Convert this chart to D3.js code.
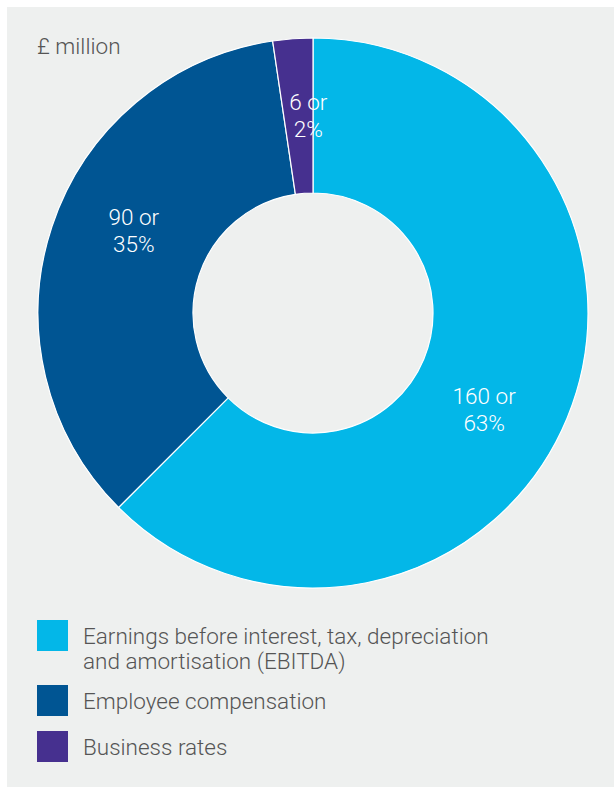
<!DOCTYPE html>
<html>
<head>
<meta charset="utf-8">
<script src="https://cdn.jsdelivr.net/npm/d3@7"></script>
<style>
  html, body { margin: 0; padding: 0; background: #ffffff; }
  svg { display: block; }
  text { font-family: Roboto, "Open Sans", sans-serif; }
</style>
</head>
<body>
<svg id="chart" width="614" height="787"></svg>
<script>
// ---- data ----
const categories = ["Earnings before interest, tax, depreciation and amortisation (EBITDA)", "Employee compensation", "Business rates"];
const legendLines = [["Earnings before interest, tax, depreciation", "and amortisation (EBITDA)"], ["Employee compensation"], ["Business rates"]];
const values = [160, 90, 6];
const percents = ["63%", "35%", "2%"];
const colors = ["#03b7e8", "#005593", "#46308f"];
const unitLabel = "£ million";

// ---- drawing ----
const svg = d3.select("#chart");
svg.append("rect").attr("x", 7).attr("y", 7).attr("width", 607).attr("height", 780).attr("fill", "#eef0ef");

const cx = 313, cy = 313, rOuter = 275, rInner = 120;
const g = svg.append("g").attr("transform", `translate(${cx},${cy})`);

const pie = d3.pie().sort(null).value(d => d)(values);
const arc = d3.arc().innerRadius(rInner).outerRadius(rOuter);

g.selectAll("path").data(pie).join("path")
  .attr("d", arc)
  .attr("fill", (d, i) => colors[i])
  .attr("stroke", "#ffffff")
  .attr("stroke-width", 1.2);

// label placement: radius and small angular nudges
const labelR = 197;
const nudge = [0.125, 0.11, 0.05]; // radians
g.selectAll("text.lbl").data(pie).join("text")
  .attr("class", "lbl")
  .attr("fill", "#ffffff")
  .attr("font-size", 22.5)
  .attr("font-weight", 300)
  .attr("text-anchor", "middle")
  .each(function(d, i) {
    const a = (d.startAngle + d.endAngle) / 2 + nudge[i];
    const x = labelR * Math.sin(a), y = -labelR * Math.cos(a);
    const t = d3.select(this);
    t.append("tspan").attr("x", x).attr("y", y - 6).text(values[i] + " or");
    t.append("tspan").attr("x", x).attr("y", y + 21).text(percents[i]);
  });

svg.append("text").attr("x", 37).attr("y", 54)
  .attr("font-size", 22.5).attr("font-weight", 300).attr("fill", "#555555")
  .text(unitLabel);

// legend
const legendY = [620, 685, 731];
const leg = svg.append("g");
categories.forEach((c, i) => {
  leg.append("rect").attr("x", 37).attr("y", legendY[i]).attr("width", 31).attr("height", 31).attr("fill", colors[i]);
  const t = leg.append("text").attr("font-size", 22.5).attr("font-weight", 300).attr("fill", "#555555");
  legendLines[i].forEach((ln, j) => {
    t.append("tspan").attr("x", 83).attr("y", legendY[i] + 24 + j * 25).text(ln);
  });
});
</script>
</body>
</html>
